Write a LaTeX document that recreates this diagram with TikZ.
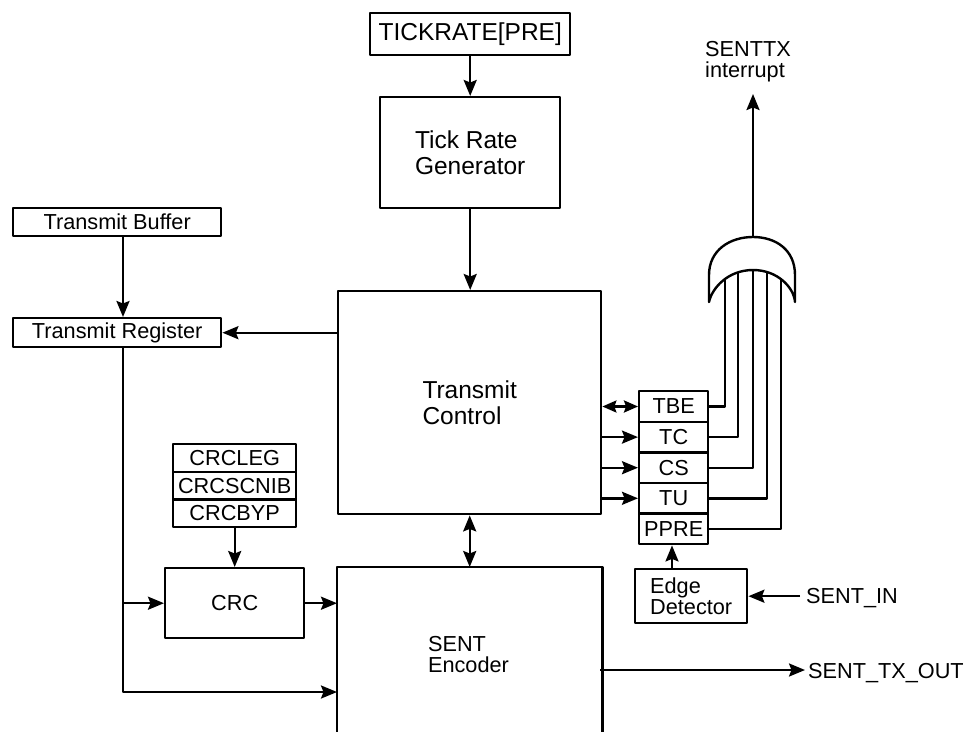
\documentclass[tikz,border=0pt]{standalone}
\usepackage{fontspec}
\setmainfont{Liberation Sans}
\usetikzlibrary{arrows.meta}
\begin{document}
\begin{tikzpicture}[x=1pt,y=-1pt, line width=2.4pt, line join=round,
  >={Stealth[length=16pt,width=13pt,inset=2.5pt]},
  sm/.style={font=\fontsize{21.7}{21}\selectfont},
  lg/.style={font=\fontsize{24.5}{26}\selectfont},
  box/.style={draw, rectangle, inner sep=0pt, anchor=north west},
  ]
\useasboundingbox (0,0) rectangle (966,731);

% top chain
\node[box, lg, minimum width=200pt, minimum height=42pt] (tick) at (369,12) {TICKRATE[PRE]};
\node[box, lg, align=left, minimum width=180pt, minimum height=111pt] (trg) at (379,96) {Tick Rate\\Generator};
\node[box, lg, align=left, minimum width=263pt, minimum height=223pt] (tc) at (337,290) {Transmit\\Control};

% encoder (open at bottom)
\node[box, draw=none, minimum width=263pt, minimum height=164pt] (enc) at (337,567) {};
\draw (enc.south west) -- (enc.north west) -- (enc.north east) -- (enc.south east);
\node[sm, align=left] (enclabel) at (468.5,655) {SENT\\Encoder};

% left side
\node[box, sm, minimum width=208pt, minimum height=28pt] (tb) at (12,207) {Transmit Buffer};
\node[box, sm, minimum width=208pt, minimum height=29pt] (tr) at (12,317) {Transmit Register};

% CRC register stack
\node[box, sm, minimum width=123pt, minimum height=27.7pt] (crcleg) at (172,443) {CRCLEG};
\node[box, sm, minimum width=123pt, minimum height=27.7pt] (crcscnib) at (172,470.7) {CRCSCNIB};
\node[box, sm, minimum width=123pt, minimum height=27.6pt] (crcbyp) at (172,498.4) {CRCBYP};
\node[box, sm, minimum width=139pt, minimum height=70pt] (crc) at (164,567) {CRC};

% status stack
\node[box, sm, minimum width=69pt, minimum height=30.6pt] (sTBE) at (638,390) {TBE};
\node[box, sm, minimum width=69pt, minimum height=30.6pt] (sTC) at (638,420.6) {TC};
\node[box, sm, minimum width=69pt, minimum height=30.6pt] (sCS) at (638,451.2) {CS};
\node[box, sm, minimum width=69pt, minimum height=30.6pt] (sTU) at (638,481.8) {TU};
\node[box, sm, minimum width=69pt, minimum height=30.6pt] (sPPRE) at (638,512.4) {PPRE};

\node[box, sm, align=left, minimum width=112pt, minimum height=54pt] (ed) at (634,568) {Edge\\Detector};

% external labels
\node[sm, anchor=base west, inner sep=0pt] (sentin) at (805,603) {SENT\_IN};
\node[sm, anchor=base west, inner sep=0pt] (txout) at (807,678) {SENT\_TX\_OUT};
\node[sm, align=left, anchor=west, inner sep=0pt] (irqlabel) at (704,62) {SENTTX\\interrupt};

% helper coordinates
\coordinate (xl) at (123,0);
\coordinate (encin) at (337,692);
\coordinate (edx) at (672,0);
\coordinate (encout) at (600,670);
\coordinate (g1) at (725,258);
\coordinate (g2) at (738,258);
\coordinate (g3) at (753,258);
\coordinate (g4) at (767,258);
\coordinate (g5) at (781,258);
\coordinate (gout) at (753,237);
\coordinate (irq) at (753,94);

% connectors
\draw[->] (tick.south) -- (tick.south |- trg.north);
\draw[->] (trg.south) -- (trg.south |- tc.north);
\draw[->] (tb.south -| xl) -- (tr.north -| xl);
\draw[->] (tc.west |- tr.east) -- (tr.east);
\draw[->] (tr.south -| xl) -- (xl |- encin) -- (encin);
\draw[->] (xl |- crc.west) -- (crc.west);
\draw[->] (crc.east) -- (crc.east -| enc.west);
\draw[->] (crcbyp.south) -- (crc.north);
\draw[<->] (tc.south) -- (enc.north);

\draw[<->, >={Stealth[length=14pt,width=12pt,inset=2pt]}] (tc.east |- sTBE.west) -- (sTBE.west);
\draw[->] (tc.east |- sTC.west) -- (sTC.west);
\draw[->] (tc.east |- sCS.west) -- (sCS.west);
\draw[->] (tc.east |- sTU.west) -- (sTU.west);

\draw[->] (ed.north -| edx) -- (sPPRE.south -| edx);
\draw[->] ([xshift=-5pt]sentin.west |- ed.east) -- (ed.east);
\draw[->] (encout) -- ([xshift=-2pt]txout.west |- encout);

% lines into OR gate
\draw (sTBE.east) -| (g1);
\draw (sTC.east) -| (g2);
\draw (sCS.east) -| (g3);
\draw (sTU.east) -| (g4);
\draw (sPPRE.east) -| (g5);

% OR gate
\draw[fill=white] (709,302) -- (709,275) .. controls (709,250) and (730,237) .. (753,237)
  .. controls (776,237) and (795,250) .. (795,275) -- (795,302)
  .. controls (794,288) and (778,270) .. (753,270)
  .. controls (728,270) and (712,288) .. (709,302) -- cycle;
\draw[->] (gout) -- (irq);
\end{tikzpicture}
\end{document}
